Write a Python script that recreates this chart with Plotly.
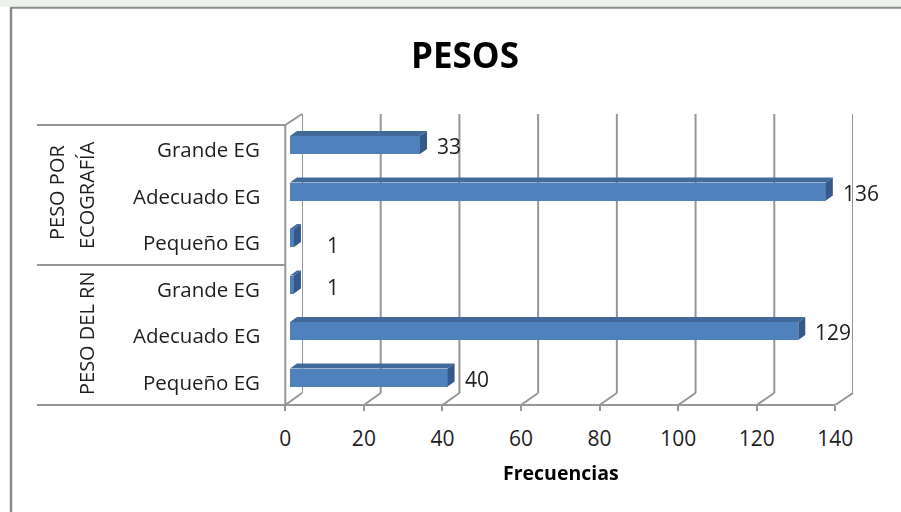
import plotly.graph_objects as go

# ---------------- data ----------------
title_text = "PESOS"
x_title = "Frecuencias"
group_names = ["PESO DEL RN", "PESO POR ECOGRAFÍA"]
# categories listed bottom-to-top (first three: PESO DEL RN, last three: PESO POR ECOGRAFÍA)
categories = ["Pequeño EG", "Adecuado EG", "Grande EG",
              "Pequeño EG", "Adecuado EG", "Grande EG"]
frecuencias = [40, 129, 1, 1, 136, 33]
x_ticks = [0, 20, 40, 60, 80, 100, 120, 140]

# ---------------- styling / geometry ----------------
W, H = 901, 512
XMAX = 140
FONT = "Open Sans"
GRID = "#969696"
BLUE = "#4F81BD"
BLUE_TOP = "#41699A"
BLUE_SIDE = "#34598A"

BAR_X = (290.0, 290.0 + XMAX * 3.94)      # plane holding the bars' front faces
BACK_X = (302.0, 853.0)                    # back wall
FRONT_X = (285.3, 835.3)                   # front edge of the floor
BACK_TOP, BACK_BOTTOM = 114.0, 393.0
FLOOR_Y = 405.0
ROW = 46.5                                 # pixel height of one category band
BAR_TOP_CENTER = 145.0                     # centre of the top bar's front face
N = len(categories)
BAR_W = 0.39
DEPTH_PX, RISE_PX = 7.0, 5.0               # 3-D depth of each bar


def px(p):
    return p / W


def py(p):
    return 1 - p / H


def lerp(dom, v):
    return dom[0] + (dom[1] - dom[0]) * v / XMAX


y_top_px = BAR_TOP_CENTER - ROW / 2
y_bot_px = BAR_TOP_CENTER + (N - 1) * ROW + ROW / 2

fig = go.Figure()

# bars (front faces)
fig.add_trace(go.Bar(
    x=frecuencias, y=list(range(N)), orientation="h", width=BAR_W,
    marker=dict(color=BLUE, line=dict(width=0)),
    xaxis="x", yaxis="y", hoverinfo="x", showlegend=False,
))
# helper traces so the wall and floor axes get drawn
fig.add_trace(go.Scatter(x=[0, XMAX], y=[0, 1], mode="markers", opacity=0,
                         xaxis="x2", yaxis="y2", showlegend=False, hoverinfo="skip"))
fig.add_trace(go.Scatter(x=[0, XMAX], y=[0, 1], mode="markers", opacity=0,
                         xaxis="x3", yaxis="y3", showlegend=False, hoverinfo="skip"))

shapes = []
line = dict(color=GRID, width=2)

# back-wall gridlines
for t in x_ticks:
    shapes.append(dict(type="line", xref="x2", yref="paper", x0=t, x1=t,
                       y0=py(BACK_BOTTOM), y1=py(BACK_TOP), line=line, layer="below"))
    # floor depth lines from front tick to back gridline
    shapes.append(dict(type="line", xref="paper", yref="paper",
                       x0=px(lerp(FRONT_X, t)), y0=py(FLOOR_Y),
                       x1=px(lerp(BACK_X, t)), y1=py(BACK_BOTTOM),
                       line=line, layer="below"))

# left wall front edge and its top edge
shapes.append(dict(type="line", xref="paper", yref="paper",
                   x0=px(FRONT_X[0]), x1=px(FRONT_X[0]), y0=py(125), y1=py(FLOOR_Y),
                   line=line, layer="below"))
shapes.append(dict(type="line", xref="paper", yref="paper",
                   x0=px(FRONT_X[0]), y0=py(125), x1=px(BACK_X[0]), y1=py(BACK_TOP),
                   line=line, layer="below"))

# category table rules
for yy in (125, 265, FLOOR_Y):
    shapes.append(dict(type="line", xref="paper", yref="paper",
                       x0=px(37), x1=px(FRONT_X[0]), y0=py(yy), y1=py(yy),
                       line=line, layer="below"))

# chart frame
shapes.append(dict(type="rect", xref="paper", yref="paper", x0=0, x1=1, y0=py(6.8), y1=1,
                   fillcolor="#EEF0EC", line=dict(width=0), layer="below"))
shapes.append(dict(type="line", xref="paper", yref="paper", x0=px(10), x1=1,
                   y0=py(7.8), y1=py(7.8), line=dict(color="#8A8A8A", width=2)))
shapes.append(dict(type="line", xref="paper", yref="paper", x0=px(11), x1=px(11),
                   y0=py(7.8), y1=0, line=dict(color="#8A8A8A", width=2.5)))

# 3-D top and side faces of each bar
scale = (BAR_X[1] - BAR_X[0]) / XMAX
dx = DEPTH_PX / scale
dy = RISE_PX / ROW
for i, v in enumerate(frecuencias):
    top = i + BAR_W / 2
    bot = i - BAR_W / 2
    shapes.append(dict(
        type="path", xref="x", yref="y", layer="above",
        path=f"M 0,{top} L {dx},{top + dy} L {v + dx},{top + dy} L {v},{top} Z",
        fillcolor=BLUE_TOP, line=dict(width=0)))
    shapes.append(dict(
        type="path", xref="x", yref="y", layer="above",
        path=f"M {v},{bot} L {v},{top} L {v + dx},{top + dy} L {v + dx},{bot + dy} Z",
        fillcolor=BLUE_SIDE, line=dict(width=0)))

annotations = []
TXT = "#1E1E1E"

# value labels
label_dx = [0, 0, 16, 16, 0, 0]
label_dy = [0, 0, -1, -6, 0, 0]
for i, v in enumerate(frecuencias):
    annotations.append(dict(
        x=v, y=i, xref="x", yref="y", text=str(v), showarrow=False,
        xanchor="left", yanchor="middle",
        xshift=DEPTH_PX + 8 + label_dx[i], yshift=-1 + label_dy[i],
        font=dict(family=FONT, size=21, color=TXT)))

# category labels
for i, c in enumerate(categories):
    annotations.append(dict(
        x=px(262), y=i, xref="paper", yref="y", text=c, showarrow=False,
        xanchor="right", yanchor="middle", yshift=-4,
        font=dict(family=FONT, size=20.5, color=TXT)))


def centered(xp, yp, text, size, angle=0, color=TXT):
    return dict(x=px(xp), y=py(yp), xref="paper", yref="paper", text=text,
                textangle=angle, showarrow=False, xanchor="center", yanchor="middle",
                font=dict(family=FONT, size=size, color=color))


# group labels (rotated)
annotations.append(centered(56, 193, "PESO POR", 20, -90))
annotations.append(centered(86, 195, "ECOGRAFÍA", 20, -90))
annotations.append(centered(86, 333, group_names[0], 20, -90))

# title and axis title
annotations.append(centered(465, 54, f"<b>{title_text}</b>", 35, color="#000000"))
annotations.append(centered(561, 472, f"<b>{x_title}</b>", 19.5, color="#000000"))

hidden = dict(visible=False, showgrid=False, zeroline=False, fixedrange=True,
              automargin=False)

fig.update_layout(
    width=W, height=H,
    margin=dict(l=0, r=0, t=0, b=0, pad=0, autoexpand=False),
    paper_bgcolor="white", plot_bgcolor="rgba(0,0,0,0)",
    bargap=0,
    xaxis=dict(domain=[px(BAR_X[0]), px(BAR_X[1])], range=[0, XMAX], anchor="y", **hidden),
    yaxis=dict(domain=[py(y_bot_px), py(y_top_px)], range=[-0.5, N - 0.5], anchor="x", **hidden),
    xaxis2=dict(domain=[px(BACK_X[0]), px(BACK_X[1])], range=[0, XMAX], anchor="y2", **hidden),
    yaxis2=dict(domain=[py(BACK_BOTTOM), py(BACK_TOP)], range=[0, 1], anchor="x2", **hidden),
    xaxis3=dict(domain=[px(FRONT_X[0]), px(FRONT_X[1])], range=[0, XMAX], anchor="y3",
                tickmode="array", tickvals=x_ticks, ticktext=[str(t) for t in x_ticks],
                showline=True, linecolor=GRID, linewidth=2,
                ticks="outside", ticklen=5, tickwidth=2, tickcolor=GRID,
                ticklabelstandoff=10,
                tickfont=dict(family=FONT, size=21, color=TXT),
                showgrid=False, zeroline=False, fixedrange=True, automargin=False),
    yaxis3=dict(domain=[py(FLOOR_Y - 1), py(FLOOR_Y - 50)], range=[0, 1], anchor="x3", **hidden),
    shapes=shapes,
    annotations=annotations,
    showlegend=False,
)

fig.write_html("out.html", config={"displayModeBar": False})
